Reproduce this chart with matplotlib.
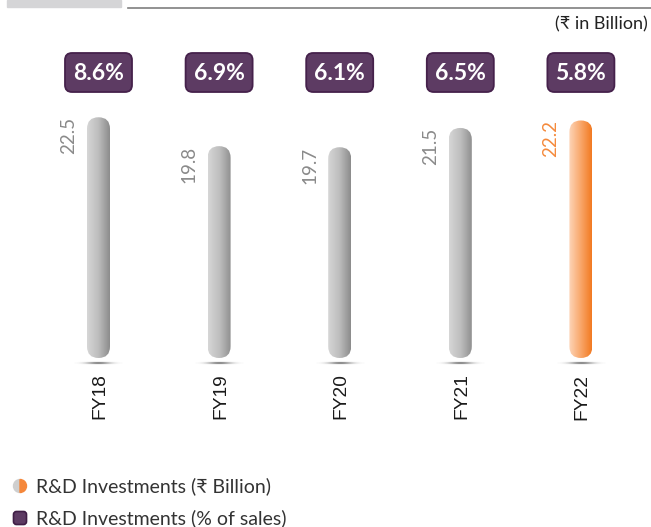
import numpy as np
import matplotlib
matplotlib.use("Agg")
import matplotlib.pyplot as plt
from matplotlib.patches import FancyBboxPatch, Rectangle, Wedge
from matplotlib.colors import LinearSegmentedColormap

years = ['FY18', 'FY19', 'FY20', 'FY21', 'FY22']
rd_values = [22.5, 19.8, 19.7, 21.5, 22.2]
rd_pct = ['8.6%', '6.9%', '6.1%', '6.5%', '5.8%']
highlight = 'FY22'

plt.rcParams['font.family'] = ['Lato', 'DejaVu Sans']

W, H = 651, 527
fig = plt.figure(figsize=(W / 100, H / 100), dpi=100)

# main axes: category spacing ~120.6 px, ~10.7 px per billion, baseline at 358 px
sx, sy = 120.6, 10.7
x0, base = 98.5, 358
ax = fig.add_axes([0, 0, 1, 1])
ax.axis('off')
aspect = sx / sy

gray_cmap = LinearSegmentedColormap.from_list('g', ['#d6d6d6', '#bdbdbd', '#8c8c8c'])
orange_cmap = LinearSegmentedColormap.from_list('o', ['#fdd5b8', '#f9a86c', '#f27a22'])
grad = np.linspace(0, 1, 64).reshape(1, -1)

# soft shadow under each bar
gx = np.linspace(-1, 1, 80)
gy = np.linspace(-1, 1, 12)
shadow = np.zeros((12, 80, 4))
shadow[..., :3] = 0.25
shadow[..., 3] = np.outer(np.exp(-(gy / 0.45) ** 2), np.exp(-(gx / 0.5) ** 2)) * 0.9

bw = 23 / sx
for i, (yr, v, p) in enumerate(zip(years, rd_values, rd_pct)):
    hi = yr == highlight
    patch = FancyBboxPatch((i - bw / 2, 0), bw, v,
                           boxstyle=f"round,pad=0,rounding_size={bw / 2}",
                           mutation_aspect=aspect, fc='none', ec='none')
    ax.add_patch(patch)
    im = ax.imshow(grad, extent=[i - bw / 2, i + bw / 2, 0, v], aspect='auto',
                   cmap=orange_cmap if hi else gray_cmap, zorder=2)
    im.set_clip_path(patch)
    ax.imshow(shadow, extent=[i - 0.2, i + 0.2, -0.62, -0.32], aspect='auto', zorder=1)

    ax.text(i - 0.25, v, f'{v}', rotation=90, ha='center', va='top',
            fontsize=13.5, color='#f58a3c' if hi else '#8a8a8a')
    ax.text(i + 0.012, -1.45, yr, rotation=90, ha='center', va='top',
            fontsize=13.8, color='#1a1a1a', family=['Liberation Sans'])

    # percentage boxes
    bx_w, bx_h = 67 / sx, 39 / sy
    cy = (H - 72.5 - (H - base)) / sy
    ax.add_patch(FancyBboxPatch((i - bx_w / 2, cy - bx_h / 2), bx_w, bx_h,
                                boxstyle=f"round,pad=0,rounding_size={7 / sx}",
                                mutation_aspect=aspect, fc='#5d3b63', ec='#45214b',
                                lw=1.3, zorder=3))
    ax.text(i, (H - 80.5 - (H - base)) / sy, p, ha='center', va='baseline',
            fontsize=16.5, fontweight='bold', color='white', zorder=4)

ax.set_xlim(-x0 / sx, (W - x0) / sx)
ax.set_ylim(-(H - base) / sy, base / sy)

# overlay in pixel coordinates for header and legend
ov = fig.add_axes([0, 0, 1, 1])
ov.axis('off')
ov.set_xlim(0, W)
ov.set_ylim(H, 0)
ov.add_patch(Rectangle((7, 0), 114, 7, color='#d5d5d7'))
ov.plot([128, W], [8, 8], color='#7f7f7f', lw=1.2)
ov.text(648, 24, '(₹ in Billion)', ha='right', va='center', fontsize=13, color='#222222')

ov.add_patch(Wedge((20, 486), 6.5, 90, 270, color='#cfcfcf'))
ov.add_patch(Wedge((20, 486), 6.5, 270, 90, color='#f5873a'))
ov.text(36, 486, 'R&D Investments (₹ Billion)', ha='left', va='center',
        fontsize=14, color='#333333')
ov.add_patch(FancyBboxPatch((13.5, 511.5), 13, 13, boxstyle="round,pad=0,rounding_size=3",
                            fc='#5d3b63', ec='#3f1e45', lw=1.2))
ov.text(36, 518, 'R&D Investments (% of sales)', ha='left', va='center',
        fontsize=14, color='#333333')

fig.savefig('out.png', dpi=100)
